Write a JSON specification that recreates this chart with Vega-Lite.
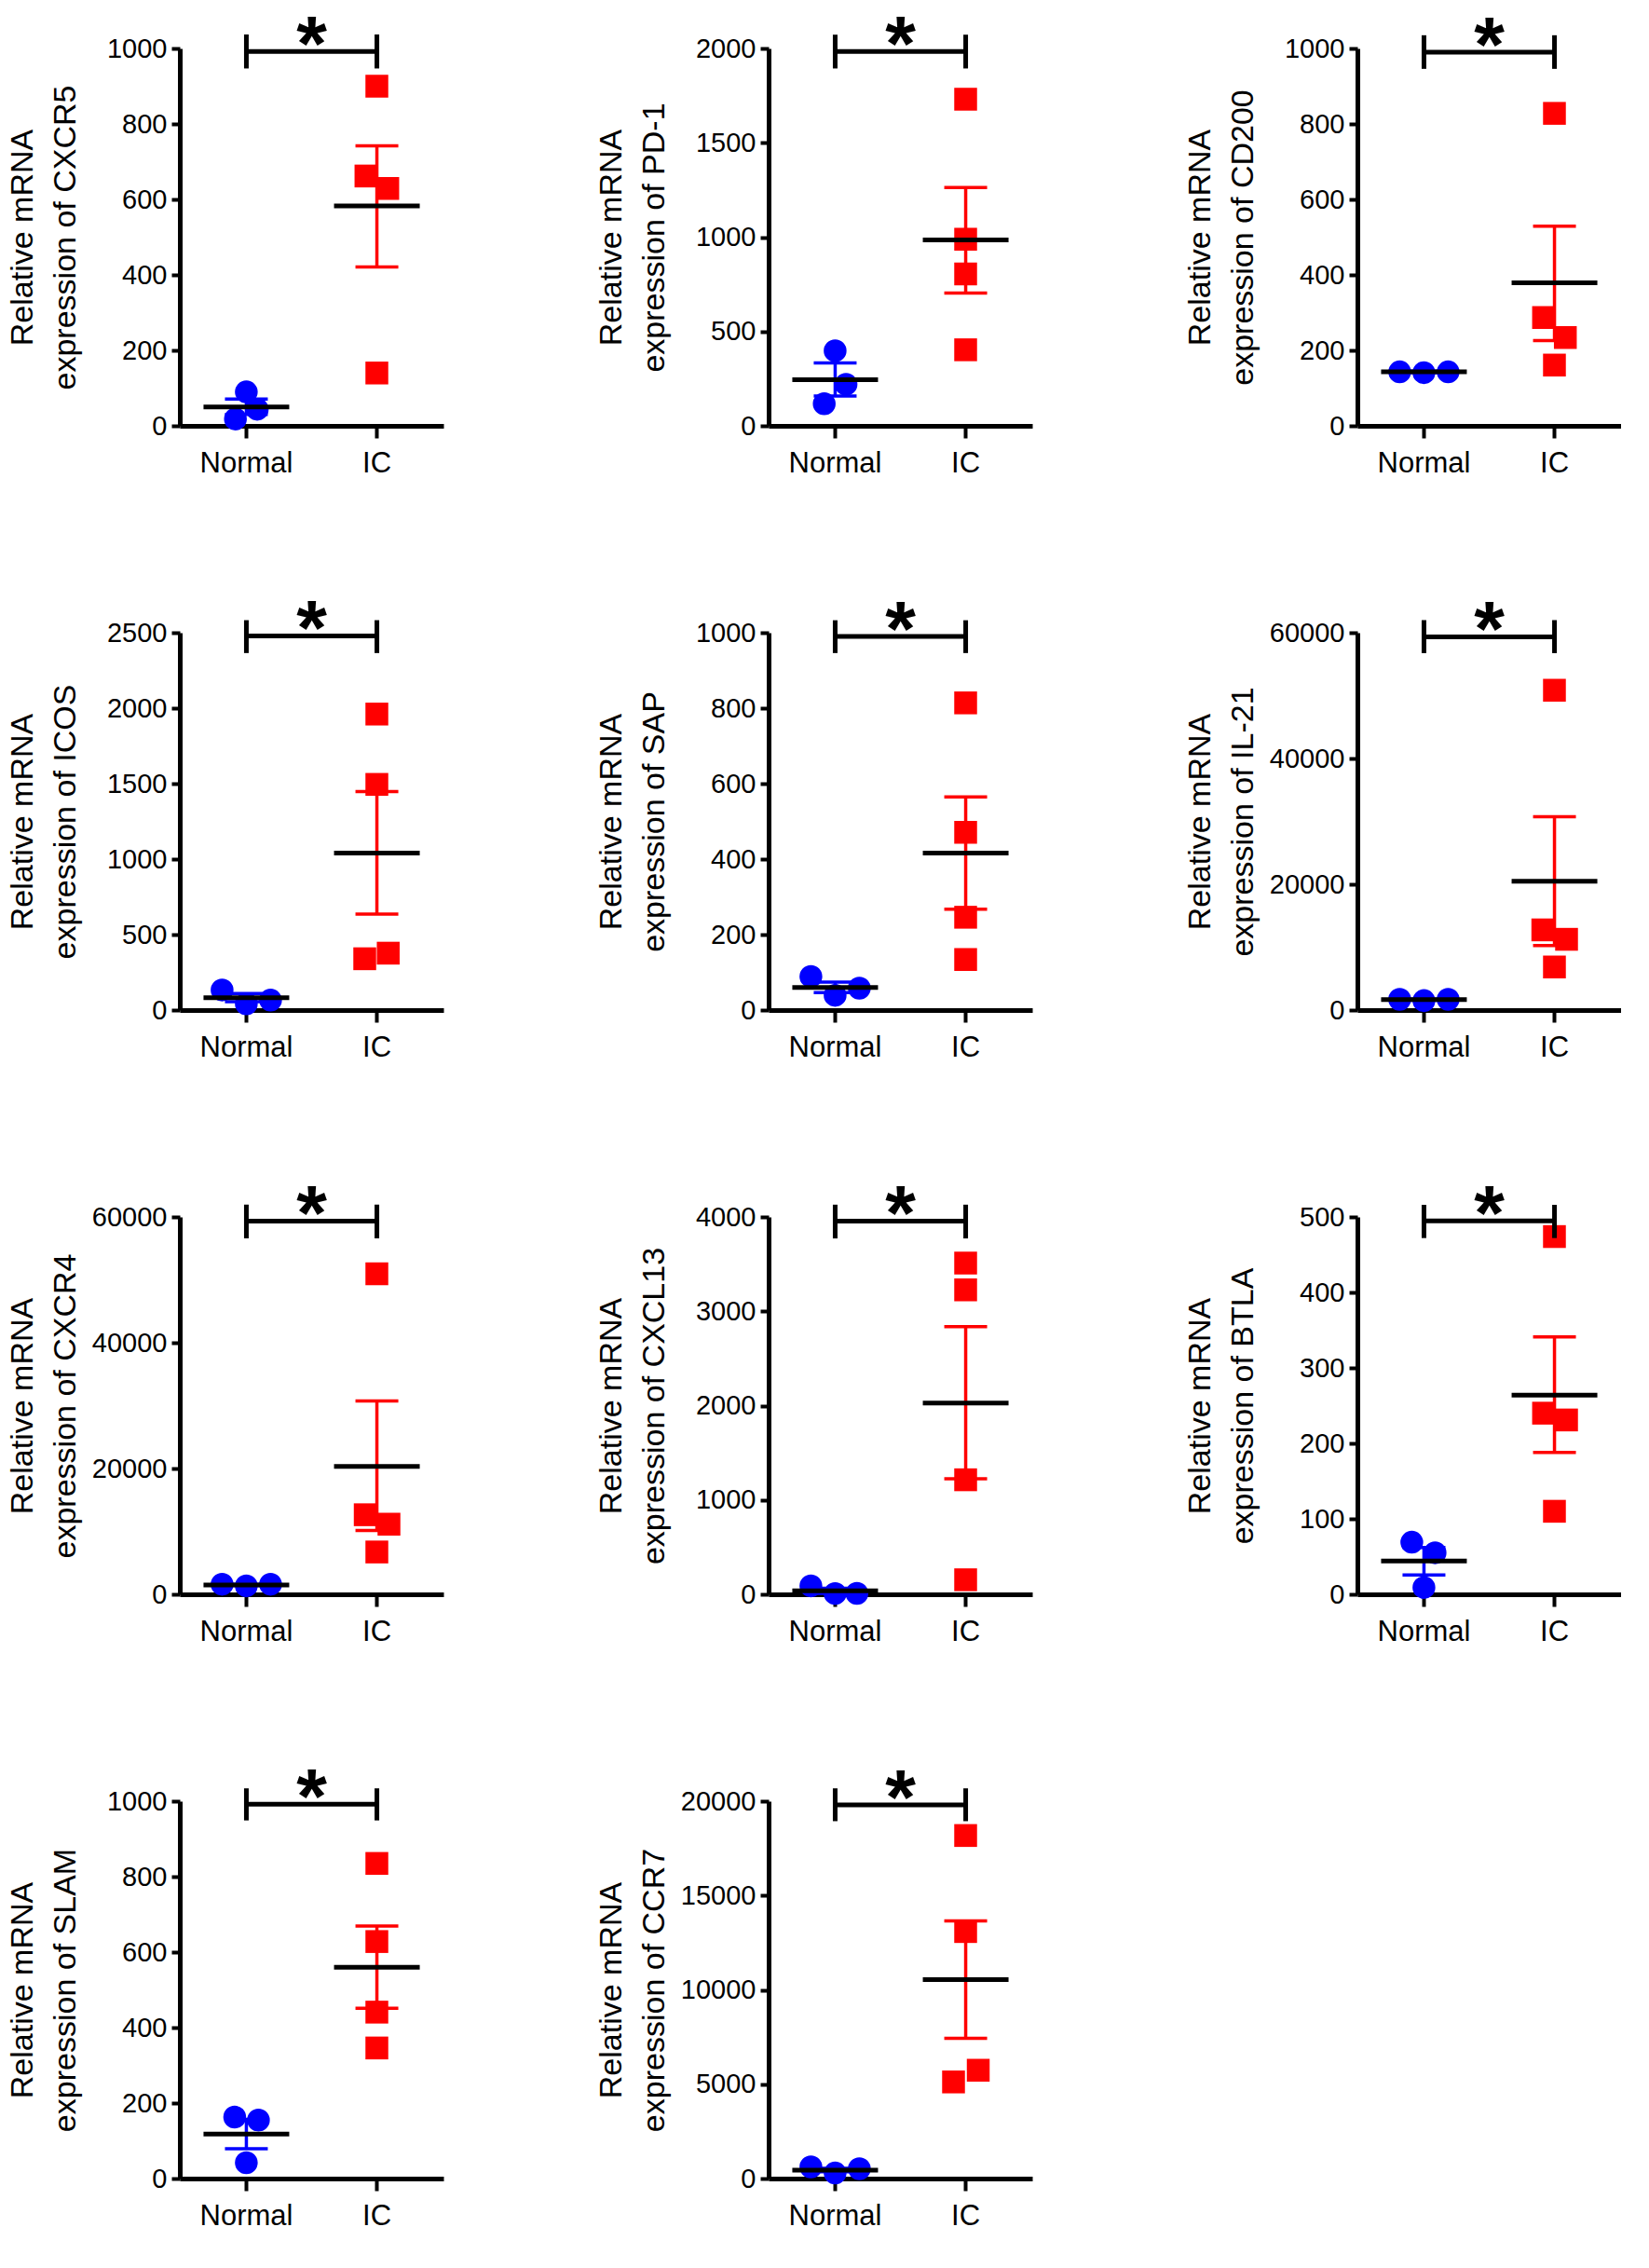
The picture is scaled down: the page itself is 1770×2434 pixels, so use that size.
{
"$schema": "https://vega.github.io/schema/vega-lite/v6.json",
"background": "white",
"padding": {"left": 6, "top": 9, "right": 0, "bottom": 0},
"datasets": {
"pts": [
{"gene":"CXCR5","group":"Normal","value":90,"jitter":0},
{"gene":"CXCR5","group":"Normal","value":18,"jitter":-0.45},
{"gene":"CXCR5","group":"Normal","value":44,"jitter":0.45},
{"gene":"CXCR5","group":"IC","value":900,"jitter":0},
{"gene":"CXCR5","group":"IC","value":662,"jitter":-0.45},
{"gene":"CXCR5","group":"IC","value":629,"jitter":0.45},
{"gene":"CXCR5","group":"IC","value":140,"jitter":0},
{"gene":"PD-1","group":"Normal","value":398,"jitter":0},
{"gene":"PD-1","group":"Normal","value":220,"jitter":0.45},
{"gene":"PD-1","group":"Normal","value":117,"jitter":-0.45},
{"gene":"PD-1","group":"IC","value":1731,"jitter":0},
{"gene":"PD-1","group":"IC","value":989,"jitter":0},
{"gene":"PD-1","group":"IC","value":805,"jitter":0},
{"gene":"PD-1","group":"IC","value":403,"jitter":0},
{"gene":"CD200","group":"Normal","value":143,"jitter":-1},
{"gene":"CD200","group":"Normal","value":141,"jitter":0},
{"gene":"CD200","group":"Normal","value":143,"jitter":1},
{"gene":"CD200","group":"IC","value":828,"jitter":0},
{"gene":"CD200","group":"IC","value":287,"jitter":-0.45},
{"gene":"CD200","group":"IC","value":234,"jitter":0.45},
{"gene":"CD200","group":"IC","value":161,"jitter":0},
{"gene":"ICOS","group":"Normal","value":133,"jitter":-1},
{"gene":"ICOS","group":"Normal","value":41,"jitter":0},
{"gene":"ICOS","group":"Normal","value":66,"jitter":1},
{"gene":"ICOS","group":"IC","value":1961,"jitter":0},
{"gene":"ICOS","group":"IC","value":1495,"jitter":0},
{"gene":"ICOS","group":"IC","value":340,"jitter":-0.5},
{"gene":"ICOS","group":"IC","value":377,"jitter":0.47},
{"gene":"SAP","group":"Normal","value":89,"jitter":-1},
{"gene":"SAP","group":"Normal","value":39,"jitter":0},
{"gene":"SAP","group":"Normal","value":58,"jitter":1},
{"gene":"SAP","group":"IC","value":814,"jitter":0},
{"gene":"SAP","group":"IC","value":471,"jitter":0},
{"gene":"SAP","group":"IC","value":246,"jitter":0},
{"gene":"SAP","group":"IC","value":134,"jitter":0},
{"gene":"IL-21","group":"Normal","value":1700,"jitter":-1},
{"gene":"IL-21","group":"Normal","value":1500,"jitter":0},
{"gene":"IL-21","group":"Normal","value":1700,"jitter":1},
{"gene":"IL-21","group":"IC","value":50850,"jitter":0},
{"gene":"IL-21","group":"IC","value":12750,"jitter":-0.48},
{"gene":"IL-21","group":"IC","value":11250,"jitter":0.5},
{"gene":"IL-21","group":"IC","value":6850,"jitter":0},
{"gene":"CXCR4","group":"Normal","value":1600,"jitter":-1},
{"gene":"CXCR4","group":"Normal","value":1350,"jitter":0},
{"gene":"CXCR4","group":"Normal","value":1600,"jitter":1},
{"gene":"CXCR4","group":"IC","value":50960,"jitter":0},
{"gene":"CXCR4","group":"IC","value":12650,"jitter":-0.48},
{"gene":"CXCR4","group":"IC","value":11150,"jitter":0.5},
{"gene":"CXCR4","group":"IC","value":6730,"jitter":0},
{"gene":"CXCL13","group":"Normal","value":90,"jitter":-1},
{"gene":"CXCL13","group":"Normal","value":8,"jitter":0},
{"gene":"CXCL13","group":"Normal","value":10,"jitter":0.9},
{"gene":"CXCL13","group":"IC","value":3511,"jitter":0},
{"gene":"CXCL13","group":"IC","value":3227,"jitter":0},
{"gene":"CXCL13","group":"IC","value":1214,"jitter":0},
{"gene":"CXCL13","group":"IC","value":154,"jitter":0},
{"gene":"BTLA","group":"Normal","value":69,"jitter":-0.5},
{"gene":"BTLA","group":"Normal","value":55,"jitter":0.46},
{"gene":"BTLA","group":"Normal","value":9,"jitter":0},
{"gene":"BTLA","group":"IC","value":474,"jitter":0},
{"gene":"BTLA","group":"IC","value":240,"jitter":-0.45},
{"gene":"BTLA","group":"IC","value":231,"jitter":0.5},
{"gene":"BTLA","group":"IC","value":110,"jitter":0},
{"gene":"SLAM","group":"Normal","value":163,"jitter":-0.48},
{"gene":"SLAM","group":"Normal","value":155,"jitter":0.5},
{"gene":"SLAM","group":"Normal","value":42,"jitter":0},
{"gene":"SLAM","group":"IC","value":835,"jitter":0},
{"gene":"SLAM","group":"IC","value":628,"jitter":0},
{"gene":"SLAM","group":"IC","value":441,"jitter":0},
{"gene":"SLAM","group":"IC","value":346,"jitter":0},
{"gene":"CCR7","group":"Normal","value":618,"jitter":-1},
{"gene":"CCR7","group":"Normal","value":293,"jitter":0},
{"gene":"CCR7","group":"Normal","value":520,"jitter":1},
{"gene":"CCR7","group":"IC","value":18180,"jitter":0},
{"gene":"CCR7","group":"IC","value":13090,"jitter":0},
{"gene":"CCR7","group":"IC","value":5120,"jitter":-0.5},
{"gene":"CCR7","group":"IC","value":5740,"jitter":0.52}
],
"summ": [
{"gene":"CXCR5","group":"Normal","mean":50,"lo":30,"hi":71},
{"gene":"CXCR5","group":"IC","mean":583,"lo":421,"hi":742},
{"gene":"PD-1","group":"Normal","mean":245,"lo":158,"hi":333},
{"gene":"PD-1","group":"IC","mean":985,"lo":704,"hi":1263},
{"gene":"CD200","group":"Normal","mean":143,"lo":141,"hi":145},
{"gene":"CD200","group":"IC","mean":379,"lo":226,"hi":529},
{"gene":"ICOS","group":"Normal","mean":82,"lo":55,"hi":110},
{"gene":"ICOS","group":"IC","mean":1040,"lo":636,"hi":1448},
{"gene":"SAP","group":"Normal","mean":60,"lo":46,"hi":74},
{"gene":"SAP","group":"IC","mean":416,"lo":267,"hi":565},
{"gene":"IL-21","group":"Normal","mean":1650,"lo":1550,"hi":1750},
{"gene":"IL-21","group":"IC","mean":20500,"lo":10250,"hi":30750},
{"gene":"CXCR4","group":"Normal","mean":1500,"lo":1420,"hi":1580},
{"gene":"CXCR4","group":"IC","mean":20330,"lo":10140,"hi":30730},
{"gene":"CXCL13","group":"Normal","mean":36,"lo":9,"hi":63},
{"gene":"CXCL13","group":"IC","mean":2026,"lo":1224,"hi":2836},
{"gene":"BTLA","group":"Normal","mean":44,"lo":25.5,"hi":62},
{"gene":"BTLA","group":"IC","mean":264,"lo":188,"hi":341},
{"gene":"SLAM","group":"Normal","mean":118,"lo":79,"hi":157},
{"gene":"SLAM","group":"IC","mean":560,"lo":451,"hi":669},
{"gene":"CCR7","group":"Normal","mean":450,"lo":355,"hi":545},
{"gene":"CCR7","group":"IC","mean":10540,"lo":7430,"hi":13660}
],
"brk": [
{"gene":"CXCR5","from":"Normal","to":"IC","y":992,"y_lo":947,"y_hi":1037,"label":"*"},
{"gene":"PD-1","from":"Normal","to":"IC","y":1984,"y_lo":1894,"y_hi":2073,"label":"*"},
{"gene":"CD200","from":"Normal","to":"IC","y":990,"y_lo":946,"y_hi":1035,"label":"*"},
{"gene":"ICOS","from":"Normal","to":"IC","y":2479,"y_lo":2365,"y_hi":2583,"label":"*"},
{"gene":"SAP","from":"Normal","to":"IC","y":990,"y_lo":946,"y_hi":1033,"label":"*"},
{"gene":"IL-21","from":"Normal","to":"IC","y":59350,"y_lo":56750,"y_hi":62000,"label":"*"},
{"gene":"CXCR4","from":"Normal","to":"IC","y":59350,"y_lo":56590,"y_hi":61960,"label":"*"},
{"gene":"CXCL13","from":"Normal","to":"IC","y":3956,"y_lo":3772,"y_hi":4130,"label":"*"},
{"gene":"BTLA","from":"Normal","to":"IC","y":494.6,"y_lo":472,"y_hi":516,"label":"*"},
{"gene":"SLAM","from":"Normal","to":"IC","y":992,"y_lo":949,"y_hi":1034,"label":"*"},
{"gene":"CCR7","from":"Normal","to":"IC","y":19800,"y_lo":18940,"y_hi":20680,"label":"*"}
]
},
"columns": 3,
"spacing": {"row": 222, "column": 349},
"bounds": "flush",
"align": "all",
"resolve": {"scale": {"x": "independent", "y": "independent"}},
"concat": [
{"width":283,"height":405,"layer":[
{"data":{"name":"pts"},"transform":[{"filter":"datum.gene === 'CXCR5'"}],"mark":{"type":"point","filled":true,"opacity":1,"size":600,"strokeWidth":0},"encoding":{"x":{"field":"group","type":"nominal","title":null,"scale":{"type":"band","domain":["Normal","IC"],"paddingInner":0,"paddingOuter":0.01}},"xOffset":{"field":"jitter","type":"quantitative","scale":{"domain":[-1,1],"range":[44,96]}},"y":{"field":"value","type":"quantitative","scale":{"domain":[0,1000],"nice":false},"axis":{"values":[0,200,400,600,800,1000],"format":"d","title":["Relative mRNA","expression of CXCR5"]}},"color":{"field":"group","type":"nominal","scale":{"domain":["Normal","IC"],"range":["#0000ff","#ff0000"]},"legend":null},"shape":{"field":"group","type":"nominal","scale":{"domain":["Normal","IC"],"range":["circle","square"]},"legend":null}}},
{"data":{"name":"summ"},"transform":[{"filter":"datum.gene === 'CXCR5'"}],"mark":{"type":"rule","strokeWidth":3.5},"encoding":{"x":{"field":"group","type":"nominal","title":null,"scale":{"type":"band","domain":["Normal","IC"],"paddingInner":0,"paddingOuter":0.01}},"y":{"field":"lo","type":"quantitative"},"y2":{"field":"hi"},"color":{"field":"group","type":"nominal","scale":{"domain":["Normal","IC"],"range":["#0000ff","#ff0000"]},"legend":null}}},
{"data":{"name":"summ"},"transform":[{"filter":"datum.gene === 'CXCR5'"}],"mark":{"type":"tick","size":46,"thickness":3.5,"opacity":1},"encoding":{"x":{"field":"group","type":"nominal","title":null,"scale":{"type":"band","domain":["Normal","IC"],"paddingInner":0,"paddingOuter":0.01}},"y":{"field":"lo","type":"quantitative"},"color":{"field":"group","type":"nominal","scale":{"domain":["Normal","IC"],"range":["#0000ff","#ff0000"]},"legend":null}}},
{"data":{"name":"summ"},"transform":[{"filter":"datum.gene === 'CXCR5'"}],"mark":{"type":"tick","size":46,"thickness":3.5,"opacity":1},"encoding":{"x":{"field":"group","type":"nominal","title":null,"scale":{"type":"band","domain":["Normal","IC"],"paddingInner":0,"paddingOuter":0.01}},"y":{"field":"hi","type":"quantitative"},"color":{"field":"group","type":"nominal","scale":{"domain":["Normal","IC"],"range":["#0000ff","#ff0000"]},"legend":null}}},
{"data":{"name":"summ"},"transform":[{"filter":"datum.gene === 'CXCR5'"}],"mark":{"type":"tick","size":92,"thickness":5,"color":"black","opacity":1},"encoding":{"x":{"field":"group","type":"nominal","title":null,"scale":{"type":"band","domain":["Normal","IC"],"paddingInner":0,"paddingOuter":0.01}},"y":{"field":"mean","type":"quantitative"}}},
{"data":{"name":"brk"},"transform":[{"filter":"datum.gene === 'CXCR5'"}],"mark":{"type":"rule","strokeWidth":5,"color":"black"},"encoding":{"x":{"field":"from","type":"nominal","title":null,"scale":{"type":"band","domain":["Normal","IC"],"paddingInner":0,"paddingOuter":0.01}},"x2":{"field":"to"},"y":{"field":"y","type":"quantitative"}}},
{"data":{"name":"brk"},"transform":[{"filter":"datum.gene === 'CXCR5'"}],"mark":{"type":"rule","strokeWidth":5,"color":"black"},"encoding":{"x":{"field":"from","type":"nominal","title":null,"scale":{"type":"band","domain":["Normal","IC"],"paddingInner":0,"paddingOuter":0.01}},"y":{"field":"y_lo","type":"quantitative"},"y2":{"field":"y_hi"}}},
{"data":{"name":"brk"},"transform":[{"filter":"datum.gene === 'CXCR5'"}],"mark":{"type":"rule","strokeWidth":5,"color":"black"},"encoding":{"x":{"field":"to","type":"nominal","title":null,"scale":{"type":"band","domain":["Normal","IC"],"paddingInner":0,"paddingOuter":0.01}},"y":{"field":"y_lo","type":"quantitative"},"y2":{"field":"y_hi"}}},
{"data":{"name":"brk"},"transform":[{"filter":"datum.gene === 'CXCR5'"}],"mark":{"type":"text","fontSize":84,"fontWeight":"bold","baseline":"alphabetic","dy":21,"color":"black"},"encoding":{"x":{"field":"from","type":"nominal","title":null,"bandPosition":1,"scale":{"type":"band","domain":["Normal","IC"],"paddingInner":0,"paddingOuter":0.01}},"y":{"field":"y","type":"quantitative"},"text":{"field":"label"}}}
]},
{"width":283,"height":405,"layer":[
{"data":{"name":"pts"},"transform":[{"filter":"datum.gene === 'PD-1'"}],"mark":{"type":"point","filled":true,"opacity":1,"size":600,"strokeWidth":0},"encoding":{"x":{"field":"group","type":"nominal","title":null,"scale":{"type":"band","domain":["Normal","IC"],"paddingInner":0,"paddingOuter":0.01}},"xOffset":{"field":"jitter","type":"quantitative","scale":{"domain":[-1,1],"range":[44,96]}},"y":{"field":"value","type":"quantitative","scale":{"domain":[0,2000],"nice":false},"axis":{"values":[0,500,1000,1500,2000],"format":"d","title":["Relative mRNA","expression of PD-1"]}},"color":{"field":"group","type":"nominal","scale":{"domain":["Normal","IC"],"range":["#0000ff","#ff0000"]},"legend":null},"shape":{"field":"group","type":"nominal","scale":{"domain":["Normal","IC"],"range":["circle","square"]},"legend":null}}},
{"data":{"name":"summ"},"transform":[{"filter":"datum.gene === 'PD-1'"}],"mark":{"type":"rule","strokeWidth":3.5},"encoding":{"x":{"field":"group","type":"nominal","title":null,"scale":{"type":"band","domain":["Normal","IC"],"paddingInner":0,"paddingOuter":0.01}},"y":{"field":"lo","type":"quantitative"},"y2":{"field":"hi"},"color":{"field":"group","type":"nominal","scale":{"domain":["Normal","IC"],"range":["#0000ff","#ff0000"]},"legend":null}}},
{"data":{"name":"summ"},"transform":[{"filter":"datum.gene === 'PD-1'"}],"mark":{"type":"tick","size":46,"thickness":3.5,"opacity":1},"encoding":{"x":{"field":"group","type":"nominal","title":null,"scale":{"type":"band","domain":["Normal","IC"],"paddingInner":0,"paddingOuter":0.01}},"y":{"field":"lo","type":"quantitative"},"color":{"field":"group","type":"nominal","scale":{"domain":["Normal","IC"],"range":["#0000ff","#ff0000"]},"legend":null}}},
{"data":{"name":"summ"},"transform":[{"filter":"datum.gene === 'PD-1'"}],"mark":{"type":"tick","size":46,"thickness":3.5,"opacity":1},"encoding":{"x":{"field":"group","type":"nominal","title":null,"scale":{"type":"band","domain":["Normal","IC"],"paddingInner":0,"paddingOuter":0.01}},"y":{"field":"hi","type":"quantitative"},"color":{"field":"group","type":"nominal","scale":{"domain":["Normal","IC"],"range":["#0000ff","#ff0000"]},"legend":null}}},
{"data":{"name":"summ"},"transform":[{"filter":"datum.gene === 'PD-1'"}],"mark":{"type":"tick","size":92,"thickness":5,"color":"black","opacity":1},"encoding":{"x":{"field":"group","type":"nominal","title":null,"scale":{"type":"band","domain":["Normal","IC"],"paddingInner":0,"paddingOuter":0.01}},"y":{"field":"mean","type":"quantitative"}}},
{"data":{"name":"brk"},"transform":[{"filter":"datum.gene === 'PD-1'"}],"mark":{"type":"rule","strokeWidth":5,"color":"black"},"encoding":{"x":{"field":"from","type":"nominal","title":null,"scale":{"type":"band","domain":["Normal","IC"],"paddingInner":0,"paddingOuter":0.01}},"x2":{"field":"to"},"y":{"field":"y","type":"quantitative"}}},
{"data":{"name":"brk"},"transform":[{"filter":"datum.gene === 'PD-1'"}],"mark":{"type":"rule","strokeWidth":5,"color":"black"},"encoding":{"x":{"field":"from","type":"nominal","title":null,"scale":{"type":"band","domain":["Normal","IC"],"paddingInner":0,"paddingOuter":0.01}},"y":{"field":"y_lo","type":"quantitative"},"y2":{"field":"y_hi"}}},
{"data":{"name":"brk"},"transform":[{"filter":"datum.gene === 'PD-1'"}],"mark":{"type":"rule","strokeWidth":5,"color":"black"},"encoding":{"x":{"field":"to","type":"nominal","title":null,"scale":{"type":"band","domain":["Normal","IC"],"paddingInner":0,"paddingOuter":0.01}},"y":{"field":"y_lo","type":"quantitative"},"y2":{"field":"y_hi"}}},
{"data":{"name":"brk"},"transform":[{"filter":"datum.gene === 'PD-1'"}],"mark":{"type":"text","fontSize":84,"fontWeight":"bold","baseline":"alphabetic","dy":21,"color":"black"},"encoding":{"x":{"field":"from","type":"nominal","title":null,"bandPosition":1,"scale":{"type":"band","domain":["Normal","IC"],"paddingInner":0,"paddingOuter":0.01}},"y":{"field":"y","type":"quantitative"},"text":{"field":"label"}}}
]},
{"width":283,"height":405,"layer":[
{"data":{"name":"pts"},"transform":[{"filter":"datum.gene === 'CD200'"}],"mark":{"type":"point","filled":true,"opacity":1,"size":600,"strokeWidth":0},"encoding":{"x":{"field":"group","type":"nominal","title":null,"scale":{"type":"band","domain":["Normal","IC"],"paddingInner":0,"paddingOuter":0.01}},"xOffset":{"field":"jitter","type":"quantitative","scale":{"domain":[-1,1],"range":[44,96]}},"y":{"field":"value","type":"quantitative","scale":{"domain":[0,1000],"nice":false},"axis":{"values":[0,200,400,600,800,1000],"format":"d","title":["Relative mRNA","expression of CD200"]}},"color":{"field":"group","type":"nominal","scale":{"domain":["Normal","IC"],"range":["#0000ff","#ff0000"]},"legend":null},"shape":{"field":"group","type":"nominal","scale":{"domain":["Normal","IC"],"range":["circle","square"]},"legend":null}}},
{"data":{"name":"summ"},"transform":[{"filter":"datum.gene === 'CD200'"}],"mark":{"type":"rule","strokeWidth":3.5},"encoding":{"x":{"field":"group","type":"nominal","title":null,"scale":{"type":"band","domain":["Normal","IC"],"paddingInner":0,"paddingOuter":0.01}},"y":{"field":"lo","type":"quantitative"},"y2":{"field":"hi"},"color":{"field":"group","type":"nominal","scale":{"domain":["Normal","IC"],"range":["#0000ff","#ff0000"]},"legend":null}}},
{"data":{"name":"summ"},"transform":[{"filter":"datum.gene === 'CD200'"}],"mark":{"type":"tick","size":46,"thickness":3.5,"opacity":1},"encoding":{"x":{"field":"group","type":"nominal","title":null,"scale":{"type":"band","domain":["Normal","IC"],"paddingInner":0,"paddingOuter":0.01}},"y":{"field":"lo","type":"quantitative"},"color":{"field":"group","type":"nominal","scale":{"domain":["Normal","IC"],"range":["#0000ff","#ff0000"]},"legend":null}}},
{"data":{"name":"summ"},"transform":[{"filter":"datum.gene === 'CD200'"}],"mark":{"type":"tick","size":46,"thickness":3.5,"opacity":1},"encoding":{"x":{"field":"group","type":"nominal","title":null,"scale":{"type":"band","domain":["Normal","IC"],"paddingInner":0,"paddingOuter":0.01}},"y":{"field":"hi","type":"quantitative"},"color":{"field":"group","type":"nominal","scale":{"domain":["Normal","IC"],"range":["#0000ff","#ff0000"]},"legend":null}}},
{"data":{"name":"summ"},"transform":[{"filter":"datum.gene === 'CD200'"}],"mark":{"type":"tick","size":92,"thickness":5,"color":"black","opacity":1},"encoding":{"x":{"field":"group","type":"nominal","title":null,"scale":{"type":"band","domain":["Normal","IC"],"paddingInner":0,"paddingOuter":0.01}},"y":{"field":"mean","type":"quantitative"}}},
{"data":{"name":"brk"},"transform":[{"filter":"datum.gene === 'CD200'"}],"mark":{"type":"rule","strokeWidth":5,"color":"black"},"encoding":{"x":{"field":"from","type":"nominal","title":null,"scale":{"type":"band","domain":["Normal","IC"],"paddingInner":0,"paddingOuter":0.01}},"x2":{"field":"to"},"y":{"field":"y","type":"quantitative"}}},
{"data":{"name":"brk"},"transform":[{"filter":"datum.gene === 'CD200'"}],"mark":{"type":"rule","strokeWidth":5,"color":"black"},"encoding":{"x":{"field":"from","type":"nominal","title":null,"scale":{"type":"band","domain":["Normal","IC"],"paddingInner":0,"paddingOuter":0.01}},"y":{"field":"y_lo","type":"quantitative"},"y2":{"field":"y_hi"}}},
{"data":{"name":"brk"},"transform":[{"filter":"datum.gene === 'CD200'"}],"mark":{"type":"rule","strokeWidth":5,"color":"black"},"encoding":{"x":{"field":"to","type":"nominal","title":null,"scale":{"type":"band","domain":["Normal","IC"],"paddingInner":0,"paddingOuter":0.01}},"y":{"field":"y_lo","type":"quantitative"},"y2":{"field":"y_hi"}}},
{"data":{"name":"brk"},"transform":[{"filter":"datum.gene === 'CD200'"}],"mark":{"type":"text","fontSize":84,"fontWeight":"bold","baseline":"alphabetic","dy":21,"color":"black"},"encoding":{"x":{"field":"from","type":"nominal","title":null,"bandPosition":1,"scale":{"type":"band","domain":["Normal","IC"],"paddingInner":0,"paddingOuter":0.01}},"y":{"field":"y","type":"quantitative"},"text":{"field":"label"}}}
]},
{"width":283,"height":405,"layer":[
{"data":{"name":"pts"},"transform":[{"filter":"datum.gene === 'ICOS'"}],"mark":{"type":"point","filled":true,"opacity":1,"size":600,"strokeWidth":0},"encoding":{"x":{"field":"group","type":"nominal","title":null,"scale":{"type":"band","domain":["Normal","IC"],"paddingInner":0,"paddingOuter":0.01}},"xOffset":{"field":"jitter","type":"quantitative","scale":{"domain":[-1,1],"range":[44,96]}},"y":{"field":"value","type":"quantitative","scale":{"domain":[0,2500],"nice":false},"axis":{"values":[0,500,1000,1500,2000,2500],"format":"d","title":["Relative mRNA","expression of ICOS"]}},"color":{"field":"group","type":"nominal","scale":{"domain":["Normal","IC"],"range":["#0000ff","#ff0000"]},"legend":null},"shape":{"field":"group","type":"nominal","scale":{"domain":["Normal","IC"],"range":["circle","square"]},"legend":null}}},
{"data":{"name":"summ"},"transform":[{"filter":"datum.gene === 'ICOS'"}],"mark":{"type":"rule","strokeWidth":3.5},"encoding":{"x":{"field":"group","type":"nominal","title":null,"scale":{"type":"band","domain":["Normal","IC"],"paddingInner":0,"paddingOuter":0.01}},"y":{"field":"lo","type":"quantitative"},"y2":{"field":"hi"},"color":{"field":"group","type":"nominal","scale":{"domain":["Normal","IC"],"range":["#0000ff","#ff0000"]},"legend":null}}},
{"data":{"name":"summ"},"transform":[{"filter":"datum.gene === 'ICOS'"}],"mark":{"type":"tick","size":46,"thickness":3.5,"opacity":1},"encoding":{"x":{"field":"group","type":"nominal","title":null,"scale":{"type":"band","domain":["Normal","IC"],"paddingInner":0,"paddingOuter":0.01}},"y":{"field":"lo","type":"quantitative"},"color":{"field":"group","type":"nominal","scale":{"domain":["Normal","IC"],"range":["#0000ff","#ff0000"]},"legend":null}}},
{"data":{"name":"summ"},"transform":[{"filter":"datum.gene === 'ICOS'"}],"mark":{"type":"tick","size":46,"thickness":3.5,"opacity":1},"encoding":{"x":{"field":"group","type":"nominal","title":null,"scale":{"type":"band","domain":["Normal","IC"],"paddingInner":0,"paddingOuter":0.01}},"y":{"field":"hi","type":"quantitative"},"color":{"field":"group","type":"nominal","scale":{"domain":["Normal","IC"],"range":["#0000ff","#ff0000"]},"legend":null}}},
{"data":{"name":"summ"},"transform":[{"filter":"datum.gene === 'ICOS'"}],"mark":{"type":"tick","size":92,"thickness":5,"color":"black","opacity":1},"encoding":{"x":{"field":"group","type":"nominal","title":null,"scale":{"type":"band","domain":["Normal","IC"],"paddingInner":0,"paddingOuter":0.01}},"y":{"field":"mean","type":"quantitative"}}},
{"data":{"name":"brk"},"transform":[{"filter":"datum.gene === 'ICOS'"}],"mark":{"type":"rule","strokeWidth":5,"color":"black"},"encoding":{"x":{"field":"from","type":"nominal","title":null,"scale":{"type":"band","domain":["Normal","IC"],"paddingInner":0,"paddingOuter":0.01}},"x2":{"field":"to"},"y":{"field":"y","type":"quantitative"}}},
{"data":{"name":"brk"},"transform":[{"filter":"datum.gene === 'ICOS'"}],"mark":{"type":"rule","strokeWidth":5,"color":"black"},"encoding":{"x":{"field":"from","type":"nominal","title":null,"scale":{"type":"band","domain":["Normal","IC"],"paddingInner":0,"paddingOuter":0.01}},"y":{"field":"y_lo","type":"quantitative"},"y2":{"field":"y_hi"}}},
{"data":{"name":"brk"},"transform":[{"filter":"datum.gene === 'ICOS'"}],"mark":{"type":"rule","strokeWidth":5,"color":"black"},"encoding":{"x":{"field":"to","type":"nominal","title":null,"scale":{"type":"band","domain":["Normal","IC"],"paddingInner":0,"paddingOuter":0.01}},"y":{"field":"y_lo","type":"quantitative"},"y2":{"field":"y_hi"}}},
{"data":{"name":"brk"},"transform":[{"filter":"datum.gene === 'ICOS'"}],"mark":{"type":"text","fontSize":84,"fontWeight":"bold","baseline":"alphabetic","dy":21,"color":"black"},"encoding":{"x":{"field":"from","type":"nominal","title":null,"bandPosition":1,"scale":{"type":"band","domain":["Normal","IC"],"paddingInner":0,"paddingOuter":0.01}},"y":{"field":"y","type":"quantitative"},"text":{"field":"label"}}}
]},
{"width":283,"height":405,"layer":[
{"data":{"name":"pts"},"transform":[{"filter":"datum.gene === 'SAP'"}],"mark":{"type":"point","filled":true,"opacity":1,"size":600,"strokeWidth":0},"encoding":{"x":{"field":"group","type":"nominal","title":null,"scale":{"type":"band","domain":["Normal","IC"],"paddingInner":0,"paddingOuter":0.01}},"xOffset":{"field":"jitter","type":"quantitative","scale":{"domain":[-1,1],"range":[44,96]}},"y":{"field":"value","type":"quantitative","scale":{"domain":[0,1000],"nice":false},"axis":{"values":[0,200,400,600,800,1000],"format":"d","title":["Relative mRNA","expression of SAP"]}},"color":{"field":"group","type":"nominal","scale":{"domain":["Normal","IC"],"range":["#0000ff","#ff0000"]},"legend":null},"shape":{"field":"group","type":"nominal","scale":{"domain":["Normal","IC"],"range":["circle","square"]},"legend":null}}},
{"data":{"name":"summ"},"transform":[{"filter":"datum.gene === 'SAP'"}],"mark":{"type":"rule","strokeWidth":3.5},"encoding":{"x":{"field":"group","type":"nominal","title":null,"scale":{"type":"band","domain":["Normal","IC"],"paddingInner":0,"paddingOuter":0.01}},"y":{"field":"lo","type":"quantitative"},"y2":{"field":"hi"},"color":{"field":"group","type":"nominal","scale":{"domain":["Normal","IC"],"range":["#0000ff","#ff0000"]},"legend":null}}},
{"data":{"name":"summ"},"transform":[{"filter":"datum.gene === 'SAP'"}],"mark":{"type":"tick","size":46,"thickness":3.5,"opacity":1},"encoding":{"x":{"field":"group","type":"nominal","title":null,"scale":{"type":"band","domain":["Normal","IC"],"paddingInner":0,"paddingOuter":0.01}},"y":{"field":"lo","type":"quantitative"},"color":{"field":"group","type":"nominal","scale":{"domain":["Normal","IC"],"range":["#0000ff","#ff0000"]},"legend":null}}},
{"data":{"name":"summ"},"transform":[{"filter":"datum.gene === 'SAP'"}],"mark":{"type":"tick","size":46,"thickness":3.5,"opacity":1},"encoding":{"x":{"field":"group","type":"nominal","title":null,"scale":{"type":"band","domain":["Normal","IC"],"paddingInner":0,"paddingOuter":0.01}},"y":{"field":"hi","type":"quantitative"},"color":{"field":"group","type":"nominal","scale":{"domain":["Normal","IC"],"range":["#0000ff","#ff0000"]},"legend":null}}},
{"data":{"name":"summ"},"transform":[{"filter":"datum.gene === 'SAP'"}],"mark":{"type":"tick","size":92,"thickness":5,"color":"black","opacity":1},"encoding":{"x":{"field":"group","type":"nominal","title":null,"scale":{"type":"band","domain":["Normal","IC"],"paddingInner":0,"paddingOuter":0.01}},"y":{"field":"mean","type":"quantitative"}}},
{"data":{"name":"brk"},"transform":[{"filter":"datum.gene === 'SAP'"}],"mark":{"type":"rule","strokeWidth":5,"color":"black"},"encoding":{"x":{"field":"from","type":"nominal","title":null,"scale":{"type":"band","domain":["Normal","IC"],"paddingInner":0,"paddingOuter":0.01}},"x2":{"field":"to"},"y":{"field":"y","type":"quantitative"}}},
{"data":{"name":"brk"},"transform":[{"filter":"datum.gene === 'SAP'"}],"mark":{"type":"rule","strokeWidth":5,"color":"black"},"encoding":{"x":{"field":"from","type":"nominal","title":null,"scale":{"type":"band","domain":["Normal","IC"],"paddingInner":0,"paddingOuter":0.01}},"y":{"field":"y_lo","type":"quantitative"},"y2":{"field":"y_hi"}}},
{"data":{"name":"brk"},"transform":[{"filter":"datum.gene === 'SAP'"}],"mark":{"type":"rule","strokeWidth":5,"color":"black"},"encoding":{"x":{"field":"to","type":"nominal","title":null,"scale":{"type":"band","domain":["Normal","IC"],"paddingInner":0,"paddingOuter":0.01}},"y":{"field":"y_lo","type":"quantitative"},"y2":{"field":"y_hi"}}},
{"data":{"name":"brk"},"transform":[{"filter":"datum.gene === 'SAP'"}],"mark":{"type":"text","fontSize":84,"fontWeight":"bold","baseline":"alphabetic","dy":21,"color":"black"},"encoding":{"x":{"field":"from","type":"nominal","title":null,"bandPosition":1,"scale":{"type":"band","domain":["Normal","IC"],"paddingInner":0,"paddingOuter":0.01}},"y":{"field":"y","type":"quantitative"},"text":{"field":"label"}}}
]},
{"width":283,"height":405,"layer":[
{"data":{"name":"pts"},"transform":[{"filter":"datum.gene === 'IL-21'"}],"mark":{"type":"point","filled":true,"opacity":1,"size":600,"strokeWidth":0},"encoding":{"x":{"field":"group","type":"nominal","title":null,"scale":{"type":"band","domain":["Normal","IC"],"paddingInner":0,"paddingOuter":0.01}},"xOffset":{"field":"jitter","type":"quantitative","scale":{"domain":[-1,1],"range":[44,96]}},"y":{"field":"value","type":"quantitative","scale":{"domain":[0,60000],"nice":false},"axis":{"values":[0,20000,40000,60000],"format":"d","title":["Relative mRNA","expression of IL-21"]}},"color":{"field":"group","type":"nominal","scale":{"domain":["Normal","IC"],"range":["#0000ff","#ff0000"]},"legend":null},"shape":{"field":"group","type":"nominal","scale":{"domain":["Normal","IC"],"range":["circle","square"]},"legend":null}}},
{"data":{"name":"summ"},"transform":[{"filter":"datum.gene === 'IL-21'"}],"mark":{"type":"rule","strokeWidth":3.5},"encoding":{"x":{"field":"group","type":"nominal","title":null,"scale":{"type":"band","domain":["Normal","IC"],"paddingInner":0,"paddingOuter":0.01}},"y":{"field":"lo","type":"quantitative"},"y2":{"field":"hi"},"color":{"field":"group","type":"nominal","scale":{"domain":["Normal","IC"],"range":["#0000ff","#ff0000"]},"legend":null}}},
{"data":{"name":"summ"},"transform":[{"filter":"datum.gene === 'IL-21'"}],"mark":{"type":"tick","size":46,"thickness":3.5,"opacity":1},"encoding":{"x":{"field":"group","type":"nominal","title":null,"scale":{"type":"band","domain":["Normal","IC"],"paddingInner":0,"paddingOuter":0.01}},"y":{"field":"lo","type":"quantitative"},"color":{"field":"group","type":"nominal","scale":{"domain":["Normal","IC"],"range":["#0000ff","#ff0000"]},"legend":null}}},
{"data":{"name":"summ"},"transform":[{"filter":"datum.gene === 'IL-21'"}],"mark":{"type":"tick","size":46,"thickness":3.5,"opacity":1},"encoding":{"x":{"field":"group","type":"nominal","title":null,"scale":{"type":"band","domain":["Normal","IC"],"paddingInner":0,"paddingOuter":0.01}},"y":{"field":"hi","type":"quantitative"},"color":{"field":"group","type":"nominal","scale":{"domain":["Normal","IC"],"range":["#0000ff","#ff0000"]},"legend":null}}},
{"data":{"name":"summ"},"transform":[{"filter":"datum.gene === 'IL-21'"}],"mark":{"type":"tick","size":92,"thickness":5,"color":"black","opacity":1},"encoding":{"x":{"field":"group","type":"nominal","title":null,"scale":{"type":"band","domain":["Normal","IC"],"paddingInner":0,"paddingOuter":0.01}},"y":{"field":"mean","type":"quantitative"}}},
{"data":{"name":"brk"},"transform":[{"filter":"datum.gene === 'IL-21'"}],"mark":{"type":"rule","strokeWidth":5,"color":"black"},"encoding":{"x":{"field":"from","type":"nominal","title":null,"scale":{"type":"band","domain":["Normal","IC"],"paddingInner":0,"paddingOuter":0.01}},"x2":{"field":"to"},"y":{"field":"y","type":"quantitative"}}},
{"data":{"name":"brk"},"transform":[{"filter":"datum.gene === 'IL-21'"}],"mark":{"type":"rule","strokeWidth":5,"color":"black"},"encoding":{"x":{"field":"from","type":"nominal","title":null,"scale":{"type":"band","domain":["Normal","IC"],"paddingInner":0,"paddingOuter":0.01}},"y":{"field":"y_lo","type":"quantitative"},"y2":{"field":"y_hi"}}},
{"data":{"name":"brk"},"transform":[{"filter":"datum.gene === 'IL-21'"}],"mark":{"type":"rule","strokeWidth":5,"color":"black"},"encoding":{"x":{"field":"to","type":"nominal","title":null,"scale":{"type":"band","domain":["Normal","IC"],"paddingInner":0,"paddingOuter":0.01}},"y":{"field":"y_lo","type":"quantitative"},"y2":{"field":"y_hi"}}},
{"data":{"name":"brk"},"transform":[{"filter":"datum.gene === 'IL-21'"}],"mark":{"type":"text","fontSize":84,"fontWeight":"bold","baseline":"alphabetic","dy":21,"color":"black"},"encoding":{"x":{"field":"from","type":"nominal","title":null,"bandPosition":1,"scale":{"type":"band","domain":["Normal","IC"],"paddingInner":0,"paddingOuter":0.01}},"y":{"field":"y","type":"quantitative"},"text":{"field":"label"}}}
]},
{"width":283,"height":405,"layer":[
{"data":{"name":"pts"},"transform":[{"filter":"datum.gene === 'CXCR4'"}],"mark":{"type":"point","filled":true,"opacity":1,"size":600,"strokeWidth":0},"encoding":{"x":{"field":"group","type":"nominal","title":null,"scale":{"type":"band","domain":["Normal","IC"],"paddingInner":0,"paddingOuter":0.01}},"xOffset":{"field":"jitter","type":"quantitative","scale":{"domain":[-1,1],"range":[44,96]}},"y":{"field":"value","type":"quantitative","scale":{"domain":[0,60000],"nice":false},"axis":{"values":[0,20000,40000,60000],"format":"d","title":["Relative mRNA","expression of CXCR4"]}},"color":{"field":"group","type":"nominal","scale":{"domain":["Normal","IC"],"range":["#0000ff","#ff0000"]},"legend":null},"shape":{"field":"group","type":"nominal","scale":{"domain":["Normal","IC"],"range":["circle","square"]},"legend":null}}},
{"data":{"name":"summ"},"transform":[{"filter":"datum.gene === 'CXCR4'"}],"mark":{"type":"rule","strokeWidth":3.5},"encoding":{"x":{"field":"group","type":"nominal","title":null,"scale":{"type":"band","domain":["Normal","IC"],"paddingInner":0,"paddingOuter":0.01}},"y":{"field":"lo","type":"quantitative"},"y2":{"field":"hi"},"color":{"field":"group","type":"nominal","scale":{"domain":["Normal","IC"],"range":["#0000ff","#ff0000"]},"legend":null}}},
{"data":{"name":"summ"},"transform":[{"filter":"datum.gene === 'CXCR4'"}],"mark":{"type":"tick","size":46,"thickness":3.5,"opacity":1},"encoding":{"x":{"field":"group","type":"nominal","title":null,"scale":{"type":"band","domain":["Normal","IC"],"paddingInner":0,"paddingOuter":0.01}},"y":{"field":"lo","type":"quantitative"},"color":{"field":"group","type":"nominal","scale":{"domain":["Normal","IC"],"range":["#0000ff","#ff0000"]},"legend":null}}},
{"data":{"name":"summ"},"transform":[{"filter":"datum.gene === 'CXCR4'"}],"mark":{"type":"tick","size":46,"thickness":3.5,"opacity":1},"encoding":{"x":{"field":"group","type":"nominal","title":null,"scale":{"type":"band","domain":["Normal","IC"],"paddingInner":0,"paddingOuter":0.01}},"y":{"field":"hi","type":"quantitative"},"color":{"field":"group","type":"nominal","scale":{"domain":["Normal","IC"],"range":["#0000ff","#ff0000"]},"legend":null}}},
{"data":{"name":"summ"},"transform":[{"filter":"datum.gene === 'CXCR4'"}],"mark":{"type":"tick","size":92,"thickness":5,"color":"black","opacity":1},"encoding":{"x":{"field":"group","type":"nominal","title":null,"scale":{"type":"band","domain":["Normal","IC"],"paddingInner":0,"paddingOuter":0.01}},"y":{"field":"mean","type":"quantitative"}}},
{"data":{"name":"brk"},"transform":[{"filter":"datum.gene === 'CXCR4'"}],"mark":{"type":"rule","strokeWidth":5,"color":"black"},"encoding":{"x":{"field":"from","type":"nominal","title":null,"scale":{"type":"band","domain":["Normal","IC"],"paddingInner":0,"paddingOuter":0.01}},"x2":{"field":"to"},"y":{"field":"y","type":"quantitative"}}},
{"data":{"name":"brk"},"transform":[{"filter":"datum.gene === 'CXCR4'"}],"mark":{"type":"rule","strokeWidth":5,"color":"black"},"encoding":{"x":{"field":"from","type":"nominal","title":null,"scale":{"type":"band","domain":["Normal","IC"],"paddingInner":0,"paddingOuter":0.01}},"y":{"field":"y_lo","type":"quantitative"},"y2":{"field":"y_hi"}}},
{"data":{"name":"brk"},"transform":[{"filter":"datum.gene === 'CXCR4'"}],"mark":{"type":"rule","strokeWidth":5,"color":"black"},"encoding":{"x":{"field":"to","type":"nominal","title":null,"scale":{"type":"band","domain":["Normal","IC"],"paddingInner":0,"paddingOuter":0.01}},"y":{"field":"y_lo","type":"quantitative"},"y2":{"field":"y_hi"}}},
{"data":{"name":"brk"},"transform":[{"filter":"datum.gene === 'CXCR4'"}],"mark":{"type":"text","fontSize":84,"fontWeight":"bold","baseline":"alphabetic","dy":21,"color":"black"},"encoding":{"x":{"field":"from","type":"nominal","title":null,"bandPosition":1,"scale":{"type":"band","domain":["Normal","IC"],"paddingInner":0,"paddingOuter":0.01}},"y":{"field":"y","type":"quantitative"},"text":{"field":"label"}}}
]},
{"width":283,"height":405,"layer":[
{"data":{"name":"pts"},"transform":[{"filter":"datum.gene === 'CXCL13'"}],"mark":{"type":"point","filled":true,"opacity":1,"size":600,"strokeWidth":0},"encoding":{"x":{"field":"group","type":"nominal","title":null,"scale":{"type":"band","domain":["Normal","IC"],"paddingInner":0,"paddingOuter":0.01}},"xOffset":{"field":"jitter","type":"quantitative","scale":{"domain":[-1,1],"range":[44,96]}},"y":{"field":"value","type":"quantitative","scale":{"domain":[0,4000],"nice":false},"axis":{"values":[0,1000,2000,3000,4000],"format":"d","title":["Relative mRNA","expression of CXCL13"]}},"color":{"field":"group","type":"nominal","scale":{"domain":["Normal","IC"],"range":["#0000ff","#ff0000"]},"legend":null},"shape":{"field":"group","type":"nominal","scale":{"domain":["Normal","IC"],"range":["circle","square"]},"legend":null}}},
{"data":{"name":"summ"},"transform":[{"filter":"datum.gene === 'CXCL13'"}],"mark":{"type":"rule","strokeWidth":3.5},"encoding":{"x":{"field":"group","type":"nominal","title":null,"scale":{"type":"band","domain":["Normal","IC"],"paddingInner":0,"paddingOuter":0.01}},"y":{"field":"lo","type":"quantitative"},"y2":{"field":"hi"},"color":{"field":"group","type":"nominal","scale":{"domain":["Normal","IC"],"range":["#0000ff","#ff0000"]},"legend":null}}},
{"data":{"name":"summ"},"transform":[{"filter":"datum.gene === 'CXCL13'"}],"mark":{"type":"tick","size":46,"thickness":3.5,"opacity":1},"encoding":{"x":{"field":"group","type":"nominal","title":null,"scale":{"type":"band","domain":["Normal","IC"],"paddingInner":0,"paddingOuter":0.01}},"y":{"field":"lo","type":"quantitative"},"color":{"field":"group","type":"nominal","scale":{"domain":["Normal","IC"],"range":["#0000ff","#ff0000"]},"legend":null}}},
{"data":{"name":"summ"},"transform":[{"filter":"datum.gene === 'CXCL13'"}],"mark":{"type":"tick","size":46,"thickness":3.5,"opacity":1},"encoding":{"x":{"field":"group","type":"nominal","title":null,"scale":{"type":"band","domain":["Normal","IC"],"paddingInner":0,"paddingOuter":0.01}},"y":{"field":"hi","type":"quantitative"},"color":{"field":"group","type":"nominal","scale":{"domain":["Normal","IC"],"range":["#0000ff","#ff0000"]},"legend":null}}},
{"data":{"name":"summ"},"transform":[{"filter":"datum.gene === 'CXCL13'"}],"mark":{"type":"tick","size":92,"thickness":5,"color":"black","opacity":1},"encoding":{"x":{"field":"group","type":"nominal","title":null,"scale":{"type":"band","domain":["Normal","IC"],"paddingInner":0,"paddingOuter":0.01}},"y":{"field":"mean","type":"quantitative"}}},
{"data":{"name":"brk"},"transform":[{"filter":"datum.gene === 'CXCL13'"}],"mark":{"type":"rule","strokeWidth":5,"color":"black"},"encoding":{"x":{"field":"from","type":"nominal","title":null,"scale":{"type":"band","domain":["Normal","IC"],"paddingInner":0,"paddingOuter":0.01}},"x2":{"field":"to"},"y":{"field":"y","type":"quantitative"}}},
{"data":{"name":"brk"},"transform":[{"filter":"datum.gene === 'CXCL13'"}],"mark":{"type":"rule","strokeWidth":5,"color":"black"},"encoding":{"x":{"field":"from","type":"nominal","title":null,"scale":{"type":"band","domain":["Normal","IC"],"paddingInner":0,"paddingOuter":0.01}},"y":{"field":"y_lo","type":"quantitative"},"y2":{"field":"y_hi"}}},
{"data":{"name":"brk"},"transform":[{"filter":"datum.gene === 'CXCL13'"}],"mark":{"type":"rule","strokeWidth":5,"color":"black"},"encoding":{"x":{"field":"to","type":"nominal","title":null,"scale":{"type":"band","domain":["Normal","IC"],"paddingInner":0,"paddingOuter":0.01}},"y":{"field":"y_lo","type":"quantitative"},"y2":{"field":"y_hi"}}},
{"data":{"name":"brk"},"transform":[{"filter":"datum.gene === 'CXCL13'"}],"mark":{"type":"text","fontSize":84,"fontWeight":"bold","baseline":"alphabetic","dy":21,"color":"black"},"encoding":{"x":{"field":"from","type":"nominal","title":null,"bandPosition":1,"scale":{"type":"band","domain":["Normal","IC"],"paddingInner":0,"paddingOuter":0.01}},"y":{"field":"y","type":"quantitative"},"text":{"field":"label"}}}
]},
{"width":283,"height":405,"layer":[
{"data":{"name":"pts"},"transform":[{"filter":"datum.gene === 'BTLA'"}],"mark":{"type":"point","filled":true,"opacity":1,"size":600,"strokeWidth":0},"encoding":{"x":{"field":"group","type":"nominal","title":null,"scale":{"type":"band","domain":["Normal","IC"],"paddingInner":0,"paddingOuter":0.01}},"xOffset":{"field":"jitter","type":"quantitative","scale":{"domain":[-1,1],"range":[44,96]}},"y":{"field":"value","type":"quantitative","scale":{"domain":[0,500],"nice":false},"axis":{"values":[0,100,200,300,400,500],"format":"d","title":["Relative mRNA","expression of BTLA"]}},"color":{"field":"group","type":"nominal","scale":{"domain":["Normal","IC"],"range":["#0000ff","#ff0000"]},"legend":null},"shape":{"field":"group","type":"nominal","scale":{"domain":["Normal","IC"],"range":["circle","square"]},"legend":null}}},
{"data":{"name":"summ"},"transform":[{"filter":"datum.gene === 'BTLA'"}],"mark":{"type":"rule","strokeWidth":3.5},"encoding":{"x":{"field":"group","type":"nominal","title":null,"scale":{"type":"band","domain":["Normal","IC"],"paddingInner":0,"paddingOuter":0.01}},"y":{"field":"lo","type":"quantitative"},"y2":{"field":"hi"},"color":{"field":"group","type":"nominal","scale":{"domain":["Normal","IC"],"range":["#0000ff","#ff0000"]},"legend":null}}},
{"data":{"name":"summ"},"transform":[{"filter":"datum.gene === 'BTLA'"}],"mark":{"type":"tick","size":46,"thickness":3.5,"opacity":1},"encoding":{"x":{"field":"group","type":"nominal","title":null,"scale":{"type":"band","domain":["Normal","IC"],"paddingInner":0,"paddingOuter":0.01}},"y":{"field":"lo","type":"quantitative"},"color":{"field":"group","type":"nominal","scale":{"domain":["Normal","IC"],"range":["#0000ff","#ff0000"]},"legend":null}}},
{"data":{"name":"summ"},"transform":[{"filter":"datum.gene === 'BTLA'"}],"mark":{"type":"tick","size":46,"thickness":3.5,"opacity":1},"encoding":{"x":{"field":"group","type":"nominal","title":null,"scale":{"type":"band","domain":["Normal","IC"],"paddingInner":0,"paddingOuter":0.01}},"y":{"field":"hi","type":"quantitative"},"color":{"field":"group","type":"nominal","scale":{"domain":["Normal","IC"],"range":["#0000ff","#ff0000"]},"legend":null}}},
{"data":{"name":"summ"},"transform":[{"filter":"datum.gene === 'BTLA'"}],"mark":{"type":"tick","size":92,"thickness":5,"color":"black","opacity":1},"encoding":{"x":{"field":"group","type":"nominal","title":null,"scale":{"type":"band","domain":["Normal","IC"],"paddingInner":0,"paddingOuter":0.01}},"y":{"field":"mean","type":"quantitative"}}},
{"data":{"name":"brk"},"transform":[{"filter":"datum.gene === 'BTLA'"}],"mark":{"type":"rule","strokeWidth":5,"color":"black"},"encoding":{"x":{"field":"from","type":"nominal","title":null,"scale":{"type":"band","domain":["Normal","IC"],"paddingInner":0,"paddingOuter":0.01}},"x2":{"field":"to"},"y":{"field":"y","type":"quantitative"}}},
{"data":{"name":"brk"},"transform":[{"filter":"datum.gene === 'BTLA'"}],"mark":{"type":"rule","strokeWidth":5,"color":"black"},"encoding":{"x":{"field":"from","type":"nominal","title":null,"scale":{"type":"band","domain":["Normal","IC"],"paddingInner":0,"paddingOuter":0.01}},"y":{"field":"y_lo","type":"quantitative"},"y2":{"field":"y_hi"}}},
{"data":{"name":"brk"},"transform":[{"filter":"datum.gene === 'BTLA'"}],"mark":{"type":"rule","strokeWidth":5,"color":"black"},"encoding":{"x":{"field":"to","type":"nominal","title":null,"scale":{"type":"band","domain":["Normal","IC"],"paddingInner":0,"paddingOuter":0.01}},"y":{"field":"y_lo","type":"quantitative"},"y2":{"field":"y_hi"}}},
{"data":{"name":"brk"},"transform":[{"filter":"datum.gene === 'BTLA'"}],"mark":{"type":"text","fontSize":84,"fontWeight":"bold","baseline":"alphabetic","dy":21,"color":"black"},"encoding":{"x":{"field":"from","type":"nominal","title":null,"bandPosition":1,"scale":{"type":"band","domain":["Normal","IC"],"paddingInner":0,"paddingOuter":0.01}},"y":{"field":"y","type":"quantitative"},"text":{"field":"label"}}}
]},
{"width":283,"height":405,"layer":[
{"data":{"name":"pts"},"transform":[{"filter":"datum.gene === 'SLAM'"}],"mark":{"type":"point","filled":true,"opacity":1,"size":600,"strokeWidth":0},"encoding":{"x":{"field":"group","type":"nominal","title":null,"scale":{"type":"band","domain":["Normal","IC"],"paddingInner":0,"paddingOuter":0.01}},"xOffset":{"field":"jitter","type":"quantitative","scale":{"domain":[-1,1],"range":[44,96]}},"y":{"field":"value","type":"quantitative","scale":{"domain":[0,1000],"nice":false},"axis":{"values":[0,200,400,600,800,1000],"format":"d","title":["Relative mRNA","expression of SLAM"]}},"color":{"field":"group","type":"nominal","scale":{"domain":["Normal","IC"],"range":["#0000ff","#ff0000"]},"legend":null},"shape":{"field":"group","type":"nominal","scale":{"domain":["Normal","IC"],"range":["circle","square"]},"legend":null}}},
{"data":{"name":"summ"},"transform":[{"filter":"datum.gene === 'SLAM'"}],"mark":{"type":"rule","strokeWidth":3.5},"encoding":{"x":{"field":"group","type":"nominal","title":null,"scale":{"type":"band","domain":["Normal","IC"],"paddingInner":0,"paddingOuter":0.01}},"y":{"field":"lo","type":"quantitative"},"y2":{"field":"hi"},"color":{"field":"group","type":"nominal","scale":{"domain":["Normal","IC"],"range":["#0000ff","#ff0000"]},"legend":null}}},
{"data":{"name":"summ"},"transform":[{"filter":"datum.gene === 'SLAM'"}],"mark":{"type":"tick","size":46,"thickness":3.5,"opacity":1},"encoding":{"x":{"field":"group","type":"nominal","title":null,"scale":{"type":"band","domain":["Normal","IC"],"paddingInner":0,"paddingOuter":0.01}},"y":{"field":"lo","type":"quantitative"},"color":{"field":"group","type":"nominal","scale":{"domain":["Normal","IC"],"range":["#0000ff","#ff0000"]},"legend":null}}},
{"data":{"name":"summ"},"transform":[{"filter":"datum.gene === 'SLAM'"}],"mark":{"type":"tick","size":46,"thickness":3.5,"opacity":1},"encoding":{"x":{"field":"group","type":"nominal","title":null,"scale":{"type":"band","domain":["Normal","IC"],"paddingInner":0,"paddingOuter":0.01}},"y":{"field":"hi","type":"quantitative"},"color":{"field":"group","type":"nominal","scale":{"domain":["Normal","IC"],"range":["#0000ff","#ff0000"]},"legend":null}}},
{"data":{"name":"summ"},"transform":[{"filter":"datum.gene === 'SLAM'"}],"mark":{"type":"tick","size":92,"thickness":5,"color":"black","opacity":1},"encoding":{"x":{"field":"group","type":"nominal","title":null,"scale":{"type":"band","domain":["Normal","IC"],"paddingInner":0,"paddingOuter":0.01}},"y":{"field":"mean","type":"quantitative"}}},
{"data":{"name":"brk"},"transform":[{"filter":"datum.gene === 'SLAM'"}],"mark":{"type":"rule","strokeWidth":5,"color":"black"},"encoding":{"x":{"field":"from","type":"nominal","title":null,"scale":{"type":"band","domain":["Normal","IC"],"paddingInner":0,"paddingOuter":0.01}},"x2":{"field":"to"},"y":{"field":"y","type":"quantitative"}}},
{"data":{"name":"brk"},"transform":[{"filter":"datum.gene === 'SLAM'"}],"mark":{"type":"rule","strokeWidth":5,"color":"black"},"encoding":{"x":{"field":"from","type":"nominal","title":null,"scale":{"type":"band","domain":["Normal","IC"],"paddingInner":0,"paddingOuter":0.01}},"y":{"field":"y_lo","type":"quantitative"},"y2":{"field":"y_hi"}}},
{"data":{"name":"brk"},"transform":[{"filter":"datum.gene === 'SLAM'"}],"mark":{"type":"rule","strokeWidth":5,"color":"black"},"encoding":{"x":{"field":"to","type":"nominal","title":null,"scale":{"type":"band","domain":["Normal","IC"],"paddingInner":0,"paddingOuter":0.01}},"y":{"field":"y_lo","type":"quantitative"},"y2":{"field":"y_hi"}}},
{"data":{"name":"brk"},"transform":[{"filter":"datum.gene === 'SLAM'"}],"mark":{"type":"text","fontSize":84,"fontWeight":"bold","baseline":"alphabetic","dy":21,"color":"black"},"encoding":{"x":{"field":"from","type":"nominal","title":null,"bandPosition":1,"scale":{"type":"band","domain":["Normal","IC"],"paddingInner":0,"paddingOuter":0.01}},"y":{"field":"y","type":"quantitative"},"text":{"field":"label"}}}
]},
{"width":283,"height":405,"layer":[
{"data":{"name":"pts"},"transform":[{"filter":"datum.gene === 'CCR7'"}],"mark":{"type":"point","filled":true,"opacity":1,"size":600,"strokeWidth":0},"encoding":{"x":{"field":"group","type":"nominal","title":null,"scale":{"type":"band","domain":["Normal","IC"],"paddingInner":0,"paddingOuter":0.01}},"xOffset":{"field":"jitter","type":"quantitative","scale":{"domain":[-1,1],"range":[44,96]}},"y":{"field":"value","type":"quantitative","scale":{"domain":[0,20000],"nice":false},"axis":{"values":[0,5000,10000,15000,20000],"format":"d","title":["Relative mRNA","expression of CCR7"]}},"color":{"field":"group","type":"nominal","scale":{"domain":["Normal","IC"],"range":["#0000ff","#ff0000"]},"legend":null},"shape":{"field":"group","type":"nominal","scale":{"domain":["Normal","IC"],"range":["circle","square"]},"legend":null}}},
{"data":{"name":"summ"},"transform":[{"filter":"datum.gene === 'CCR7'"}],"mark":{"type":"rule","strokeWidth":3.5},"encoding":{"x":{"field":"group","type":"nominal","title":null,"scale":{"type":"band","domain":["Normal","IC"],"paddingInner":0,"paddingOuter":0.01}},"y":{"field":"lo","type":"quantitative"},"y2":{"field":"hi"},"color":{"field":"group","type":"nominal","scale":{"domain":["Normal","IC"],"range":["#0000ff","#ff0000"]},"legend":null}}},
{"data":{"name":"summ"},"transform":[{"filter":"datum.gene === 'CCR7'"}],"mark":{"type":"tick","size":46,"thickness":3.5,"opacity":1},"encoding":{"x":{"field":"group","type":"nominal","title":null,"scale":{"type":"band","domain":["Normal","IC"],"paddingInner":0,"paddingOuter":0.01}},"y":{"field":"lo","type":"quantitative"},"color":{"field":"group","type":"nominal","scale":{"domain":["Normal","IC"],"range":["#0000ff","#ff0000"]},"legend":null}}},
{"data":{"name":"summ"},"transform":[{"filter":"datum.gene === 'CCR7'"}],"mark":{"type":"tick","size":46,"thickness":3.5,"opacity":1},"encoding":{"x":{"field":"group","type":"nominal","title":null,"scale":{"type":"band","domain":["Normal","IC"],"paddingInner":0,"paddingOuter":0.01}},"y":{"field":"hi","type":"quantitative"},"color":{"field":"group","type":"nominal","scale":{"domain":["Normal","IC"],"range":["#0000ff","#ff0000"]},"legend":null}}},
{"data":{"name":"summ"},"transform":[{"filter":"datum.gene === 'CCR7'"}],"mark":{"type":"tick","size":92,"thickness":5,"color":"black","opacity":1},"encoding":{"x":{"field":"group","type":"nominal","title":null,"scale":{"type":"band","domain":["Normal","IC"],"paddingInner":0,"paddingOuter":0.01}},"y":{"field":"mean","type":"quantitative"}}},
{"data":{"name":"brk"},"transform":[{"filter":"datum.gene === 'CCR7'"}],"mark":{"type":"rule","strokeWidth":5,"color":"black"},"encoding":{"x":{"field":"from","type":"nominal","title":null,"scale":{"type":"band","domain":["Normal","IC"],"paddingInner":0,"paddingOuter":0.01}},"x2":{"field":"to"},"y":{"field":"y","type":"quantitative"}}},
{"data":{"name":"brk"},"transform":[{"filter":"datum.gene === 'CCR7'"}],"mark":{"type":"rule","strokeWidth":5,"color":"black"},"encoding":{"x":{"field":"from","type":"nominal","title":null,"scale":{"type":"band","domain":["Normal","IC"],"paddingInner":0,"paddingOuter":0.01}},"y":{"field":"y_lo","type":"quantitative"},"y2":{"field":"y_hi"}}},
{"data":{"name":"brk"},"transform":[{"filter":"datum.gene === 'CCR7'"}],"mark":{"type":"rule","strokeWidth":5,"color":"black"},"encoding":{"x":{"field":"to","type":"nominal","title":null,"scale":{"type":"band","domain":["Normal","IC"],"paddingInner":0,"paddingOuter":0.01}},"y":{"field":"y_lo","type":"quantitative"},"y2":{"field":"y_hi"}}},
{"data":{"name":"brk"},"transform":[{"filter":"datum.gene === 'CCR7'"}],"mark":{"type":"text","fontSize":84,"fontWeight":"bold","baseline":"alphabetic","dy":21,"color":"black"},"encoding":{"x":{"field":"from","type":"nominal","title":null,"bandPosition":1,"scale":{"type":"band","domain":["Normal","IC"],"paddingInner":0,"paddingOuter":0.01}},"y":{"field":"y","type":"quantitative"},"text":{"field":"label"}}}
]}
],
"config": {
"font": "Liberation Sans",
"view": {"stroke": null},
"axis": {"grid": false, "domainColor": "#000000", "domainWidth": 5, "tickColor": "#000000", "tickWidth": 4, "labelColor": "#000000", "labelFontSize": 29, "titleColor": "#000000", "titleFontSize": 34, "titleFontWeight": "normal", "labelPadding": 5},
"axisY": {"tickSize": 9, "titleX": -152, "titleLineHeight": 46},
"axisX": {"labelAngle": 0, "tickSize": 13, "labelPadding": 12, "labelFontSize": 31}
}
}
